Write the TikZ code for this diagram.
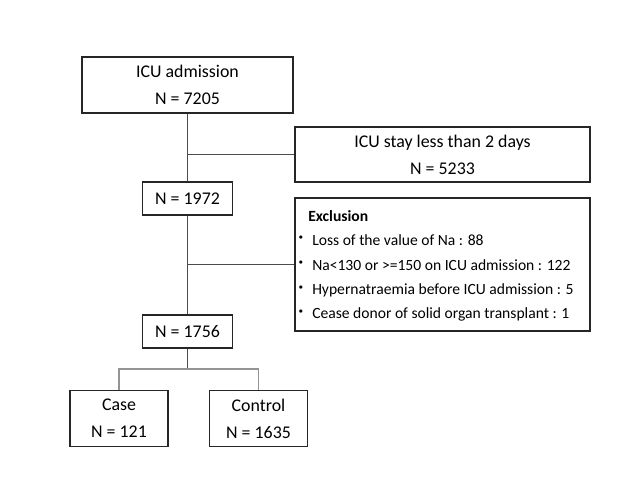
\documentclass[tikz,border=0pt]{standalone}
\usepackage{fontspec}
\setmainfont{Carlito}
\newfontfamily\cjk{Noto Sans CJK JP}
\begin{document}
\begin{tikzpicture}[x=0.75pt,y=-0.75pt,
  box/.style={draw=black!85,line width=1.1pt,inner sep=0pt,align=center,
    font=\fontsize{13.4}{20.25}\selectfont},
  exl/.style={anchor=west,inner sep=0pt,font=\fontsize{11.7}{14}\selectfont},
  bul/.style={inner sep=0pt,font=\cjk\fontsize{11.7}{14}\selectfont},
  conn/.style={draw=black!70,line width=0.75pt},
  conng/.style={draw=black!42,line width=1.3pt}]
\useasboundingbox (0,0) rectangle (640,480);
\node[box,minimum width=211*0.75pt,minimum height=56*0.75pt] (adm) at (187.5,85) {ICU admission\\N = 7205};
\node[box,minimum width=295*0.75pt,minimum height=55*0.75pt] (stay) at (442.5,154.5) {ICU stay less than 2 days\\N = 5233};
\node[box,minimum width=90*0.75pt,minimum height=33*0.75pt] (n1972) at (187.5,198.5) {N = 1972};
\node[draw=black!85,line width=1.1pt,minimum width=295*0.75pt,minimum height=133*0.75pt,inner sep=0pt] (excl) at (442.5,264.5) {};
\node[exl,font=\bfseries\fontsize{11.7}{14}\selectfont] (ex0) at (308,216) {Exclusion};
\node[bul] (b1) at (301,240) {・};
\node[exl] (ex1) at (312,240) {Loss of the value of Na : 88};
\node[bul] (b2) at (301,265) {・};
\node[exl] (ex2) at (312,265) {Na<130 or >=150 on ICU admission : 122};
\node[bul] (b3) at (301,290) {・};
\node[exl] (ex3) at (312,290) {Hypernatraemia before ICU admission : 5};
\node[bul] (b4) at (301,314) {・};
\node[exl] (ex4) at (312,314) {Cease donor of solid organ transplant : 1};
\node[box,minimum width=90*0.75pt,minimum height=33*0.75pt] (n1756) at (187.5,331.5) {N = 1756};
\node[box,minimum width=98*0.75pt,minimum height=56*0.75pt] (case) at (119,418.5) {Case\\N = 121};
\node[box,minimum width=98*0.75pt,minimum height=56*0.75pt] (ctrl) at (258.5,418.5) {Control\\N = 1635};
\coordinate (split) at (187.5,369);
\draw[conn] (adm.south) -- (n1972.north);
\draw[conn] (adm.south |- stay.west) -- (stay.west);
\draw[conn] (n1972.south) -- (n1756.north);
\draw[conn] (n1972.south |- excl.west) -- (excl.west);
\draw[conn] (n1756.south) -- (split);
\draw[conng] (case.north) -- (case.north |- split) -- (ctrl.north |- split) -- (ctrl.north);
\end{tikzpicture}
\end{document}
